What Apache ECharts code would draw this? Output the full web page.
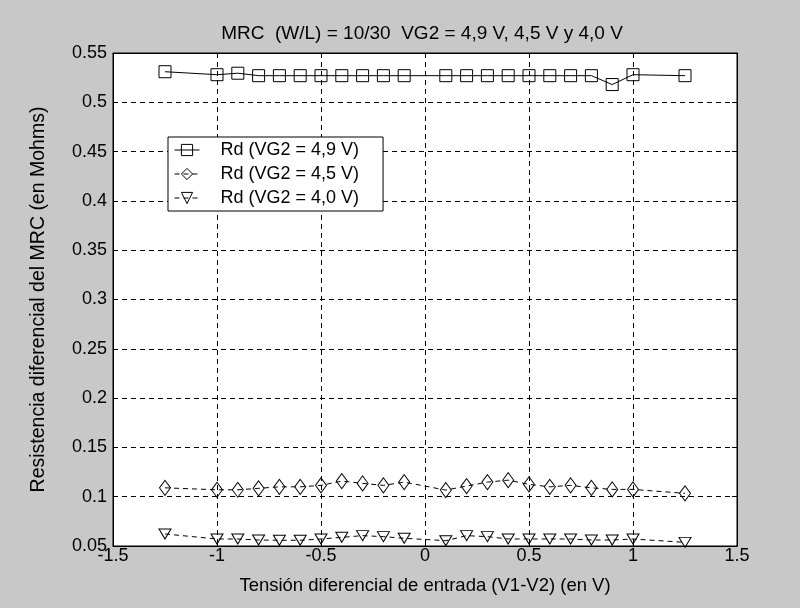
<!DOCTYPE html>
<html>
<head>
<meta charset="utf-8">
<script src="https://cdn.jsdelivr.net/npm/echarts@6/dist/echarts.min.js"></script>
<style>
html,body{margin:0;padding:0;background:#c8c8c8;}
#chart{width:800px;height:608px;}
</style>
</head>
<body>
<div id="chart"></div>
<script>
var titleText = 'MRC  (W/L) = 10/30  VG2 = 4,9 V, 4,5 V y 4,0 V';
var xAxisName = 'Tensión diferencial de entrada (V1-V2) (en V)';
var yAxisName = 'Resistencia diferencial del MRC (en Mohms)';
var seriesNames = ['Rd (VG2 = 4,9 V)', 'Rd (VG2 = 4,5 V)', 'Rd (VG2 = 4,0 V)'];
var xValues = [-1.25,-1,-0.9,-0.8,-0.7,-0.6,-0.5,-0.4,-0.3,-0.2,-0.1,0.1,0.2,0.3,0.4,0.5,0.6,0.7,0.8,0.9,1,1.25];
var rd49 = [0.531,0.528,0.5295,0.527,0.527,0.527,0.527,0.527,0.527,0.527,0.527,0.527,0.527,0.527,0.527,0.527,0.527,0.527,0.527,0.518,0.528,0.527];
var rd45 = [0.109,0.107,0.107,0.1085,0.110,0.110,0.1115,0.1158,0.1135,0.1115,0.1148,0.1067,0.1108,0.1148,0.1168,0.1125,0.110,0.1115,0.109,0.1074,0.1074,0.1034];
var rd40 = [0.0622,0.0571,0.0571,0.0561,0.0558,0.0558,0.0571,0.0588,0.0605,0.0595,0.0578,0.0554,0.0605,0.0595,0.0571,0.0571,0.0571,0.0571,0.0561,0.0561,0.0571,0.0537];

function pairs(ys){ return xValues.map(function(x,i){ return [x, ys[i]]; }); }

var FONT = "'Liberation Sans', Arial, sans-serif";
var chart = echarts.init(document.getElementById('chart'));
var axisCommonX = {type:'value', min:-1.5, max:1.5, interval:0.5};
var axisCommonY = {type:'value', min:0.05, max:0.55, interval:0.05};
chart.setOption({
  animation:false,
  backgroundColor:'#c8c8c8',
  textStyle:{fontFamily:FONT},
  title:{text:titleText, left:417, textAlign:'center', top:19, textStyle:{fontFamily:FONT, fontSize:19, fontWeight:'normal', color:'#000'}},
  grid:{left:113, right:63, top:53, bottom:62, show:true, backgroundColor:'#fff', borderColor:'#000', borderWidth:1},
  legend:{
    orient:'vertical', left:168, top:137,
    backgroundColor:'#fff', borderColor:'#000', borderWidth:1, borderRadius:0,
    padding:[4,24,4,6], itemWidth:25, itemHeight:14, itemGap:6,
    itemStyle:{color:'rgba(0,0,0,0)', borderColor:'#000', borderWidth:1},
    lineStyle:{width:1, color:'#000'},
    textStyle:{fontFamily:FONT, fontSize:18, color:'#000', padding:[0,0,0,16]},
    data:seriesNames
  },
  xAxis:[
    Object.assign({}, axisCommonX, {
      position:'bottom', name:xAxisName, nameLocation:'middle', nameGap:30,
      nameTextStyle:{fontFamily:FONT, fontSize:18.5, color:'#000'},
      axisLine:{show:true, onZero:false, lineStyle:{color:'#000'}},
      axisTick:{show:true, inside:true, length:5, lineStyle:{color:'#000'}},
      axisLabel:{fontFamily:FONT, fontSize:18, color:'#000', margin:1},
      splitLine:{show:true, lineStyle:{color:'#000', type:[5,4], width:1}}
    }),
    Object.assign({}, axisCommonX, {
      position:'top',
      axisLine:{show:true, onZero:false, lineStyle:{color:'#000'}},
      axisTick:{show:true, inside:true, length:5, lineStyle:{color:'#000'}},
      axisLabel:{show:false}, splitLine:{show:false}
    })
  ],
  yAxis:[
    Object.assign({}, axisCommonY, {
      position:'left', name:yAxisName, nameLocation:'middle', nameGap:64, nameRotate:90,
      nameTextStyle:{fontFamily:FONT, fontSize:19.5, color:'#000'},
      axisLine:{show:true, onZero:false, lineStyle:{color:'#000'}},
      axisTick:{show:true, inside:true, length:5, lineStyle:{color:'#000'}},
      axisLabel:{fontFamily:FONT, fontSize:18, color:'#000', margin:6},
      splitLine:{show:true, lineStyle:{color:'#000', type:[5,4], width:1}}
    }),
    Object.assign({}, axisCommonY, {
      position:'right',
      axisLine:{show:true, onZero:false, lineStyle:{color:'#000'}},
      axisTick:{show:true, inside:true, length:5, lineStyle:{color:'#000'}},
      axisLabel:{show:false}, splitLine:{show:false}
    })
  ],
  series:[
    {name:seriesNames[0], type:'line', data:pairs(rd49), symbol:'rect', symbolSize:12,
     lineStyle:{color:'#000', width:1, type:'solid'},
     itemStyle:{color:'rgba(0,0,0,0)', borderColor:'#000', borderWidth:1}},
    {name:seriesNames[1], type:'line', data:pairs(rd45), symbol:'diamond', symbolSize:[11,15],
     lineStyle:{color:'#000', width:1, type:[5,4]},
     itemStyle:{color:'rgba(0,0,0,0)', borderColor:'#000', borderWidth:1}},
    {name:seriesNames[2], type:'line', data:pairs(rd40), symbol:'triangle', symbolRotate:180, symbolSize:[12,10],
     lineStyle:{color:'#000', width:1, type:[5,4]},
     itemStyle:{color:'rgba(0,0,0,0)', borderColor:'#000', borderWidth:1}}
  ]
});
</script>
</body>
</html>
